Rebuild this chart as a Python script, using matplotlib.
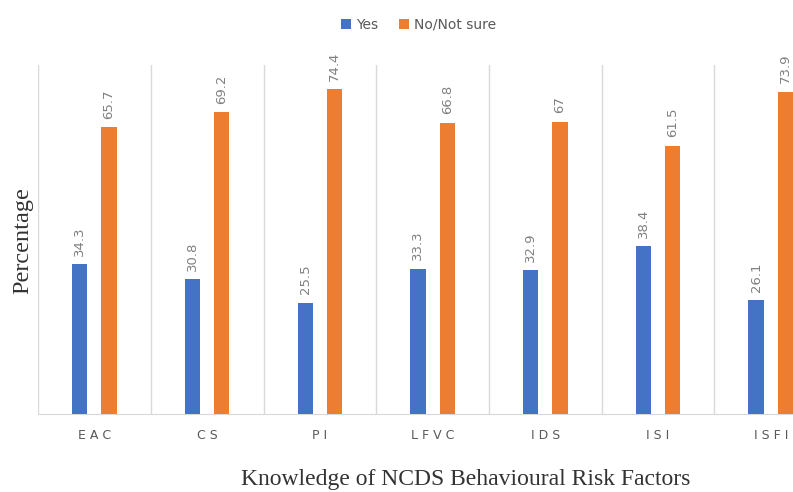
import numpy as np
import matplotlib.pyplot as plt

# Knowledge of NCD behavioural risk factors (%)
categories = ["EAC", "CS", "PI", "LFVC", "IDS", "ISI", "ISFI"]
yes_vals = [34.3, 30.8, 25.5, 33.3, 32.9, 38.4, 26.1]
no_vals = [65.7, 69.2, 74.4, 66.8, 67, 61.5, 73.9]
series_names = ["Yes", "No/Not sure"]

BLUE = "#4472C4"
ORANGE = "#ED7D31"
GRID = "#D9D9D9"
TEXT = "#595959"

fig = plt.figure(figsize=(7.93, 4.92), dpi=100)
ax = fig.add_axes([0.048, 0.159, 0.995, 0.709])

x = np.arange(len(categories))
w = 0.135
off = 0.13
b1 = ax.bar(x - off, yes_vals, w, color=BLUE, label=series_names[0], zorder=3)
b2 = ax.bar(x + off, no_vals, w, color=ORANGE, label=series_names[1], zorder=3)

for bars, vals in ((b1, yes_vals), (b2, no_vals)):
    for rect, v in zip(bars, vals):
        ax.annotate(f"{v:g}", (rect.get_x() + rect.get_width() / 2, v),
                    xytext=(0, 6), textcoords="offset points",
                    rotation=90, ha="center", va="bottom",
                    fontsize=9.5, color="#808080")

ax.set_xlim(-0.5, len(categories) - 0.5)
ax.set_ylim(0, 80)

# category separators
for b in np.arange(len(categories) + 1) - 0.5:
    ax.axvline(b, color=GRID, lw=1, zorder=1)

ax.set_xticks(x)
ax.set_xticklabels([" ".join(c) for c in categories], fontsize=9, color=TEXT)
ax.tick_params(axis="x", length=0, pad=11)
ax.set_yticks([])
for side in ("left", "right", "top"):
    ax.spines[side].set_visible(False)
ax.spines["bottom"].set_color(GRID)

fig.text(0.029, 0.512, "Percentage", rotation=90, ha="center", va="center",
         family="Liberation Serif", fontsize=17.5, color="#333333")
fig.text(0.587, 0.004, "Knowledge of NCDS Behavioural Risk Factors",
         ha="center", va="bottom", family="Liberation Serif",
         fontsize=17, color="#333333")

fig.legend(handles=[b1, b2], loc="center", bbox_to_anchor=(0.528, 0.95),
           ncol=2, frameon=False, fontsize=10, handlelength=0.7,
           handleheight=0.7, handletextpad=0.4, columnspacing=1.5,
           labelcolor=TEXT)

fig.savefig("out.png", dpi=100)
